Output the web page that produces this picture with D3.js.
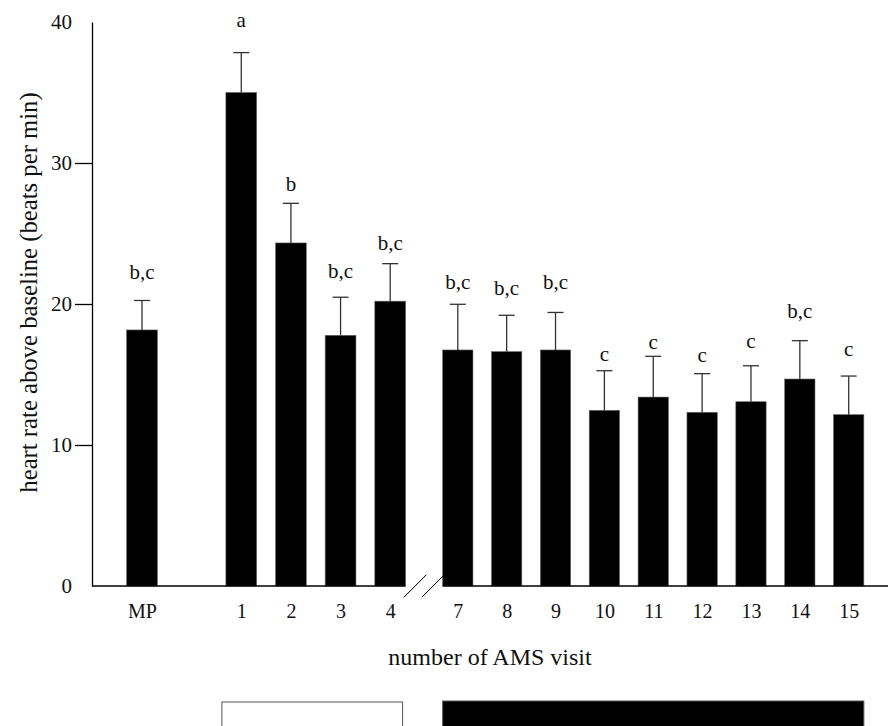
<!DOCTYPE html>
<html>
<head>
<meta charset="utf-8">
<script src="https://cdn.jsdelivr.net/npm/d3@7"></script>
<style>
  html, body { margin: 0; padding: 0; background: #fff; }
  svg { display: block; }
  text { font-family: "Liberation Serif", "Times New Roman", serif; fill: #111; }
</style>
</head>
<body>
<svg id="chart" width="888" height="726"></svg>
<script>
// visits shown on the x axis (5 and 6 are skipped, hence the axis break)
var leftVisits = ['MP', '1', '2', '3', '4'];
var rightVisits = ['7', '8', '9', '10', '11', '12', '13', '14', '15'];

// mean heart rate above baseline (beats per min)
var means = [18.16, 35.0, 24.33, 17.78, 20.2, 16.74, 16.62, 16.74, 12.46, 13.4, 12.32, 13.07, 14.68, 12.15];
// standard error, drawn upwards only
var errors = [2.09, 2.83, 2.81, 2.7, 2.66, 3.24, 2.58, 2.66, 2.81, 2.89, 2.74, 2.55, 2.72, 2.74];
// significance letters and the level (beats per min) they sit at
var letters = ['b,c', 'a', 'b', 'b,c', 'b,c', 'b,c', 'b,c', 'b,c', 'c', 'c', 'c', 'c', 'b,c', 'c'];
var letterLevel = [21.77, 39.62, 28.01, 21.87, 23.83, 21.06, 20.64, 21.06, 15.96, 16.79, 15.91, 16.88, 18.99, 16.31];

var yTicks = [0, 10, 20, 30, 40];

(function() {
  var visits = leftVisits.concat(rightVisits);
  var data = visits.map(function(v, i) {
    return {visit: v, mean: means[i], err: errors[i], letter: letters[i], level: letterLevel[i]};
  });

  var width = 888;
  var marginLeft = 92, plotTop = 22, plotBottom = 586;

  var svg = d3.select('#chart');

  var y = d3.scaleLinear().domain([0, 40]).range([plotBottom, plotTop]);

  // left block has an empty slot between MP and visit 1
  var xLeft = d3.scalePoint()
    .domain(['MP', ' ', '1', '2', '3', '4'])
    .range([142, 390.2]);
  var xRight = d3.scalePoint()
    .domain(rightVisits)
    .range([457.8, 848.7]);

  function x(v) {
    return leftVisits.indexOf(v) >= 0 ? xLeft(v) : xRight(v);
  }
  function barW(v) {
    return (leftVisits.indexOf(v) >= 0 ? xLeft.step() : xRight.step()) * 0.62;
  }

  // bars
  svg.append('g').selectAll('rect')
    .data(data)
    .enter().append('rect')
    .attr('x', function(d) { return x(d.visit) - barW(d.visit) / 2; })
    .attr('width', function(d) { return barW(d.visit); })
    .attr('y', function(d) { return y(d.mean); })
    .attr('height', function(d) { return y(0) - y(d.mean); })
    .attr('fill', '#000')
    .attr('stroke', '#666')
    .attr('stroke-width', 0.6);

  // error bars
  var eb = svg.append('g')
    .attr('stroke', '#333')
    .attr('stroke-width', 1.3);
  eb.selectAll('.stem')
    .data(data)
    .enter().append('line')
    .attr('x1', function(d) { return x(d.visit); })
    .attr('x2', function(d) { return x(d.visit); })
    .attr('y1', function(d) { return y(d.mean); })
    .attr('y2', function(d) { return y(d.mean + d.err); });
  eb.selectAll('.cap')
    .data(data)
    .enter().append('line')
    .attr('x1', function(d) { return x(d.visit) - 8; })
    .attr('x2', function(d) { return x(d.visit) + 8; })
    .attr('y1', function(d) { return y(d.mean + d.err); })
    .attr('y2', function(d) { return y(d.mean + d.err); });

  // letters
  svg.append('g').selectAll('text')
    .data(data)
    .enter().append('text')
    .attr('x', function(d) { return x(d.visit); })
    .attr('y', function(d) { return y(d.level); })
    .attr('text-anchor', 'middle')
    .style('font-size', '21px')
    .text(function(d) { return d.letter; });

  // y axis
  var yAxis = svg.append('g')
    .attr('transform', 'translate(' + marginLeft + ',0)')
    .call(d3.axisLeft(y).tickValues(yTicks).tickSize(17).tickPadding(3).tickSizeOuter(0));
  yAxis.select('.domain').attr('stroke', '#000').attr('stroke-width', 1.3);
  yAxis.selectAll('.tick line')
    .attr('stroke', '#000')
    .attr('stroke-width', 1.3)
    .attr('display', function(d) { return (d === 0 || d === 40) ? 'none' : null; });
  yAxis.selectAll('.tick text').style('font-size', '21px').attr('fill', '#111');

  // x axis: two pieces with a break between visit 4 and 7
  var leftEnd = x('4') + barW('4') / 2;
  var rightStart = x('7') - barW('7') / 2;
  var axisG = svg.append('g').attr('stroke', '#000').attr('stroke-width', 1.3);
  axisG.append('line').attr('x1', marginLeft).attr('x2', leftEnd).attr('y1', y(0)).attr('y2', y(0));
  axisG.append('line').attr('x1', rightStart).attr('x2', width).attr('y1', y(0)).attr('y2', y(0));
  var mid = (leftEnd + rightStart) / 2;
  [mid - 9, mid + 9].forEach(function(cx) {
    axisG.append('line')
      .attr('stroke-width', 1)
      .attr('x1', cx - 11.3).attr('y1', y(0) + 11.3)
      .attr('x2', cx + 11.3).attr('y2', y(0) - 11.3);
  });

  // x tick labels
  [[xLeft, leftVisits], [xRight, rightVisits]].forEach(function(p) {
    var g = svg.append('g')
      .attr('transform', 'translate(0,' + y(0) + ')')
      .call(d3.axisBottom(p[0]).tickValues(p[1]).tickSize(0).tickPadding(18));
    g.select('.domain').remove();
    g.selectAll('.tick text').style('font-size', '20px').attr('fill', '#111');
  });

  // axis titles
  svg.append('text')
    .attr('transform', 'translate(37,292.5) rotate(-90)')
    .attr('text-anchor', 'middle')
    .style('font-size', '24.7px')
    .text('heart rate above baseline (beats per min)');

  svg.append('text')
    .attr('x', 490)
    .attr('y', 665)
    .attr('text-anchor', 'middle')
    .style('font-size', '24px')
    .text('number of AMS visit');

  // boxes under the axis marking the two visit blocks
  var boxTop = 702;
  var whiteL = x('1') - barW('1') / 2 - 4;
  var whiteR = x('4') + barW('4') / 2 - 3;
  svg.append('rect')
    .attr('x', whiteL)
    .attr('width', whiteR - whiteL)
    .attr('y', boxTop)
    .attr('height', 40)
    .attr('fill', '#fff')
    .attr('stroke', '#555')
    .attr('stroke-width', 1);
  svg.append('rect')
    .attr('x', rightStart)
    .attr('width', x('15') + barW('15') / 2 - rightStart)
    .attr('y', boxTop - 1)
    .attr('height', 40)
    .attr('fill', '#000')
    .attr('stroke', '#555')
    .attr('stroke-width', 1);
})();
</script>
</body>
</html>
